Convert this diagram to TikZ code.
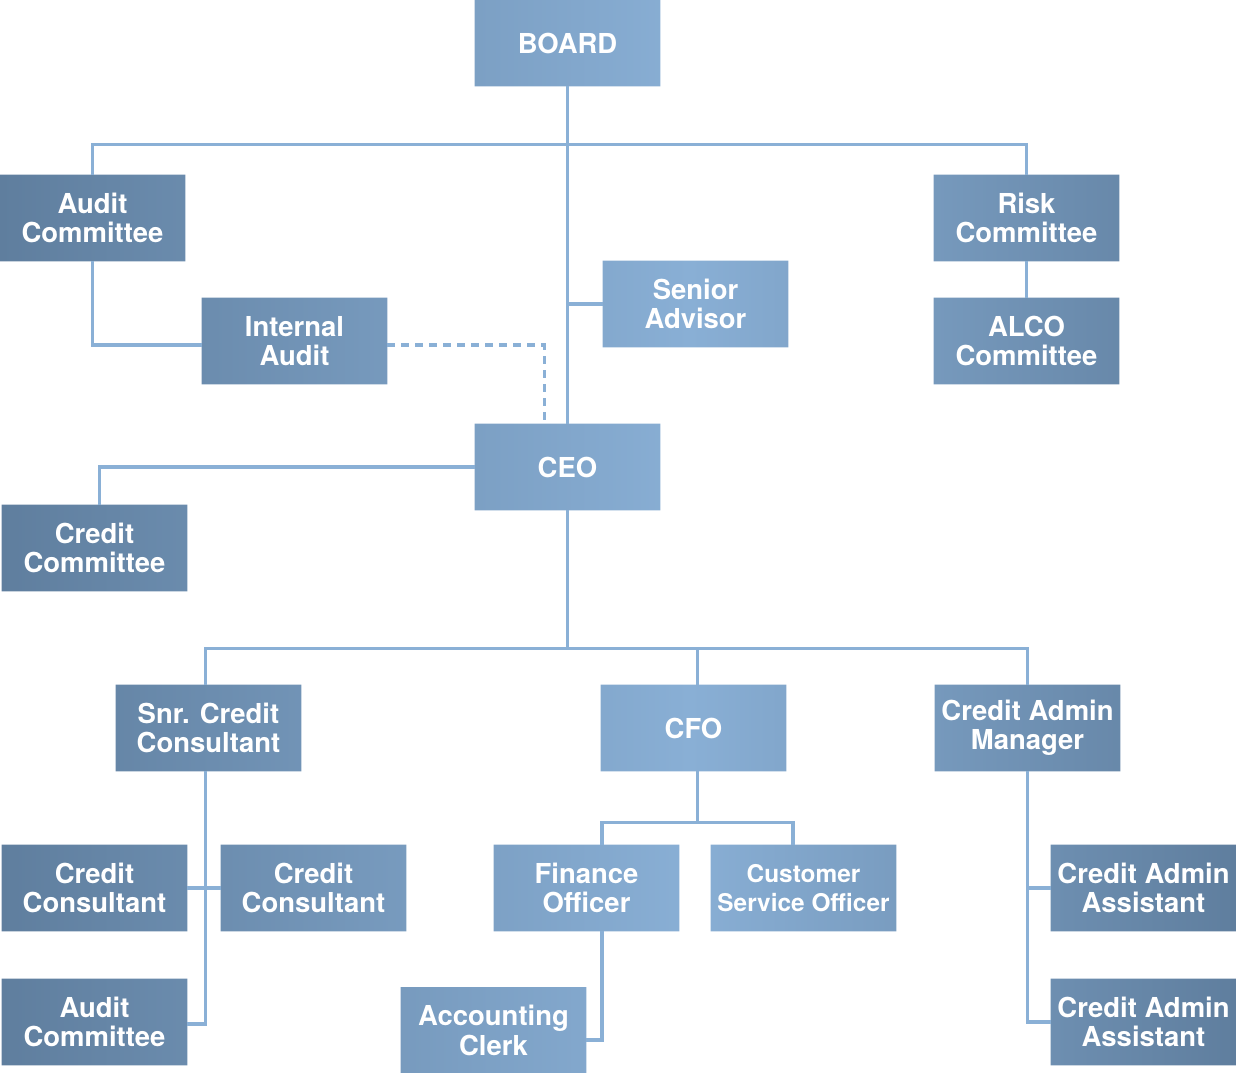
\documentclass[tikz,border=0pt]{standalone}
\usepackage{fontspec}
\setmainfont{TeX Gyre Heros}
\usetikzlibrary{backgrounds}
\definecolor{boxdark}{RGB}{95,126,158}
\definecolor{boxlight}{RGB}{137,175,213}
\definecolor{linecol}{RGB}{138,176,214}
\pgfdeclarehorizontalshading{orgshade}{100bp}{color(0bp)=(boxdark); color(25bp)=(boxdark); color(52.9bp)=(boxlight); color(75bp)=(boxdark); color(100bp)=(boxdark)}
\tikzset{
  box/.style={minimum width=138.75pt, minimum height=64.5pt, inner sep=0pt, text=white,
    align=center, font=\fontsize{20.6}{21.9}\selectfont\bfseries},
  conn/.style={draw=linecol, line width=2.3pt},
  dashconn/.style={draw=linecol, line width=2.3pt, dash pattern=on 6pt off 4.5pt}
}
\begin{document}
\begin{tikzpicture}[x=0.75pt,y=-0.75pt]
\useasboundingbox (0,0) rectangle (1236,1073);
\node[box] (board) at (567.5,43) {BOARD};
\node[box] (ac) at (92.5,218) {Audit\\Committee};
\node[box] (rc) at (1026.5,218) {Risk\\Committee};
\node[box] (sa) at (695.5,304) {Senior\\Advisor};
\node[box] (ia) at (294.5,341) {Internal\\Audit};
\node[box] (alco) at (1026.5,341) {ALCO\\Committee};
\node[box] (ceo) at (567.5,467) {CEO};
\node[box] (cc) at (94.5,548) {Credit\\Committee};
\node[box] (snr) at (208.5,728) {Snr. Credit\\Consultant};
\node[box] (cfo) at (693.5,728) {CFO};
\node[box] (cam) at (1027.5,728) {Credit Admin\\Manager};
\node[box] (cc1) at (94.5,888) {Credit\\Consultant};
\node[box] (cc2) at (313.5,888) {Credit\\Consultant};
\node[box] (fo) at (586.5,888) {Finance\\Officer};
\node[box, font=\fontsize{18.3}{21.9}\selectfont\bfseries] (cso) at (803.5,888) {Customer\\Service Officer};
\node[box] (caa1) at (1143.5,888) {Credit Admin\\Assistant};
\node[box] (ac2) at (94.5,1022) {Audit\\Committee};
\node[box] (acc) at (493.5,1030.5) {Accounting\\Clerk};
\node[box] (caa2) at (1143.5,1022) {Credit Admin\\Assistant};
\begin{pgfonlayer}{background}
\begin{scope}
\clip (board.south west) rectangle (board.north east)
 (ac.south west) rectangle (ac.north east)
 (rc.south west) rectangle (rc.north east)
 (sa.south west) rectangle (sa.north east)
 (ia.south west) rectangle (ia.north east)
 (alco.south west) rectangle (alco.north east)
 (ceo.south west) rectangle (ceo.north east)
 (cc.south west) rectangle (cc.north east)
 (snr.south west) rectangle (snr.north east)
 (cfo.south west) rectangle (cfo.north east)
 (cam.south west) rectangle (cam.north east)
 (cc1.south west) rectangle (cc1.north east)
 (cc2.south west) rectangle (cc2.north east)
 (fo.south west) rectangle (fo.north east)
 (cso.south west) rectangle (cso.north east)
 (caa1.south west) rectangle (caa1.north east)
 (ac2.south west) rectangle (ac2.north east)
 (acc.south west) rectangle (acc.north east)
 (caa2.south west) rectangle (caa2.north east);
\shade[shading=orgshade] (0,0) rectangle (1236,1073);
\end{scope}
\draw[conn] (board.south) -- (ceo.north);
\draw[conn] (ac.north) -- ++(0,-30) -| (rc.north);
\draw[conn] (rc.south) -- (alco.north);
\draw[conn] (ac.south) |- ([yshift=-3pt]ia.west);
\draw[conn] (sa.west) -- (sa.west -| board.south);
\draw[dashconn] ([yshift=-3pt]ia.east) -| ([xshift=-17.6pt]ceo.north);
\draw[conn] (ceo.west) -| ([xshift=3.4pt]cc.north);
\draw[conn] (ceo.south) -- ++(0,139);
\draw[conn] ([xshift=-2.6pt]snr.north) -- ++(0,-36) -| (cam.north);
\draw[conn] ([xshift=2.7pt]cfo.north) -- ++(0,-36);
\draw[conn] ([xshift=-2.6pt]snr.south) |- ([yshift=-1.5pt]ac2.east);
\draw[conn] (cc1.east) -- (cc2.west);
\draw[conn] ([xshift=2.7pt]cfo.south) -- ++(0,51) coordinate (fj);
\draw[conn] ([xshift=11.6pt]fo.north) |- (fj) -| ([xshift=-7.9pt]cso.north);
\draw[conn] ([xshift=11.6pt]fo.south) |- ([yshift=-7.1pt]acc.east);
\draw[conn] (cam.south) |- (caa1.west);
\draw[conn] (cam.south) |- (caa2.west);
\end{pgfonlayer}
\end{tikzpicture}
\end{document}
